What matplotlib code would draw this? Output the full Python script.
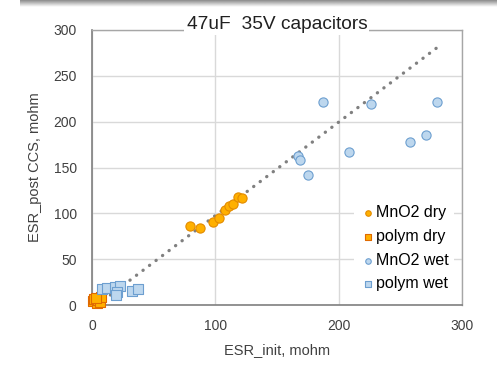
import numpy as np
import matplotlib
matplotlib.use('Agg')
import matplotlib.pyplot as plt

# values (ESR_init, ESR_post CCS), mohm
mno2_dry_x = [79.5, 88, 98, 103, 108, 111, 114.5, 118, 122]
mno2_dry_y = [86, 84.5, 91, 95.5, 104, 108, 110, 118, 116.5]
polym_dry_x = [1, 2, 4, 5, 6.5, 7, 3]
polym_dry_y = [4, 7, 2, 6, 3.5, 9, 8]
mno2_wet_x = [187.5, 226, 279.5, 271, 258, 208, 167, 168.5, 175]
mno2_wet_y = [221, 219, 221, 185.5, 178, 167, 162.5, 158, 142]
polym_wet_x = [8, 12.5, 18.5, 22.5, 20, 19.5, 32.5, 37.5]
polym_wet_y = [17, 18.5, 20, 21, 14.5, 10.5, 15.5, 17.5]
trend_x = [15, 280]
trend_y = [11, 281]

plt.rcParams['font.family'] = ['Liberation Sans', 'DejaVu Sans']

fig = plt.figure(figsize=(4.97, 3.68), dpi=100)
ax = fig.add_axes([0.185, 0.171, 0.7446, 0.7475])

ax.plot(trend_x, trend_y, color='#808080', lw=2.4, ls=(0, (0.05, 2.4)),
        dash_capstyle='round', zorder=2)

ms = 44
ax.scatter(mno2_dry_x, mno2_dry_y, s=ms, marker='o', color='#ffb000',
           edgecolor='#e38b00', lw=0.8, label='MnO2 dry', zorder=3, clip_on=False)
ax.scatter(polym_dry_x, polym_dry_y, s=ms, marker='s', color='#ffb000',
           edgecolor='#e06a00', lw=0.8, label='polym dry', zorder=3, clip_on=False)
ax.scatter(mno2_wet_x, mno2_wet_y, s=ms, marker='o', color='#bdd7ee',
           edgecolor='#6d9fd0', lw=0.8, label='MnO2 wet', zorder=3, clip_on=False)
ax.scatter(polym_wet_x, polym_wet_y, s=ms, marker='s', color='#bdd7ee',
           edgecolor='#6d9fd0', lw=0.8, label='polym wet', zorder=3, clip_on=False)

ax.set_xlim(0, 300)
ax.set_ylim(0, 300)
ax.set_xticks([0, 100, 200, 300])
ax.set_yticks(range(0, 301, 50))
ax.grid(True, color='#d9d9d9', lw=1.0, zorder=0)
ax.set_axisbelow(True)
ax.tick_params(length=0, labelsize=10, colors='#404040', pad=10)
ax.tick_params(axis='y', pad=11)
for s in ('top', 'right'):
    ax.spines[s].set_color('#a6a6a6')
    ax.spines[s].set_linewidth(1.0)
for s in ('left', 'bottom'):
    ax.spines[s].set_color('#7f7f7f')
    ax.spines[s].set_linewidth(1.2)

ax.set_xlabel('ESR_init, mohm', fontsize=10.5, color='#404040', labelpad=7)
ax.set_ylabel('ESR_post CCS, mohm', fontsize=10.5, color='#404040', labelpad=8)
ax.set_title('47uF  35V capacitors', fontsize=13.8, color='#202020', y=0.972,
             bbox=dict(facecolor='white', edgecolor='none', pad=1.5), zorder=5)

leg = ax.legend(loc='lower right', bbox_to_anchor=(1.0, 0.0), frameon=True,
                fontsize=11.5, handletextpad=0.0, handlelength=1.0,
                labelspacing=0.55, borderpad=0.35, markerscale=0.6)
leg.get_frame().set_edgecolor('none')
leg.get_frame().set_facecolor('white')
leg.get_frame().set_alpha(1)

# grey shadow band along the top edge of the screenshot
band = fig.add_axes([0.04, 0.982, 0.96, 0.018])
band.imshow(np.linspace(0.55, 1.0, 20).reshape(-1, 1), cmap='gray',
            aspect='auto', vmin=0, vmax=1)
band.axis('off')

fig.savefig('out.png', dpi=100, facecolor='white')
